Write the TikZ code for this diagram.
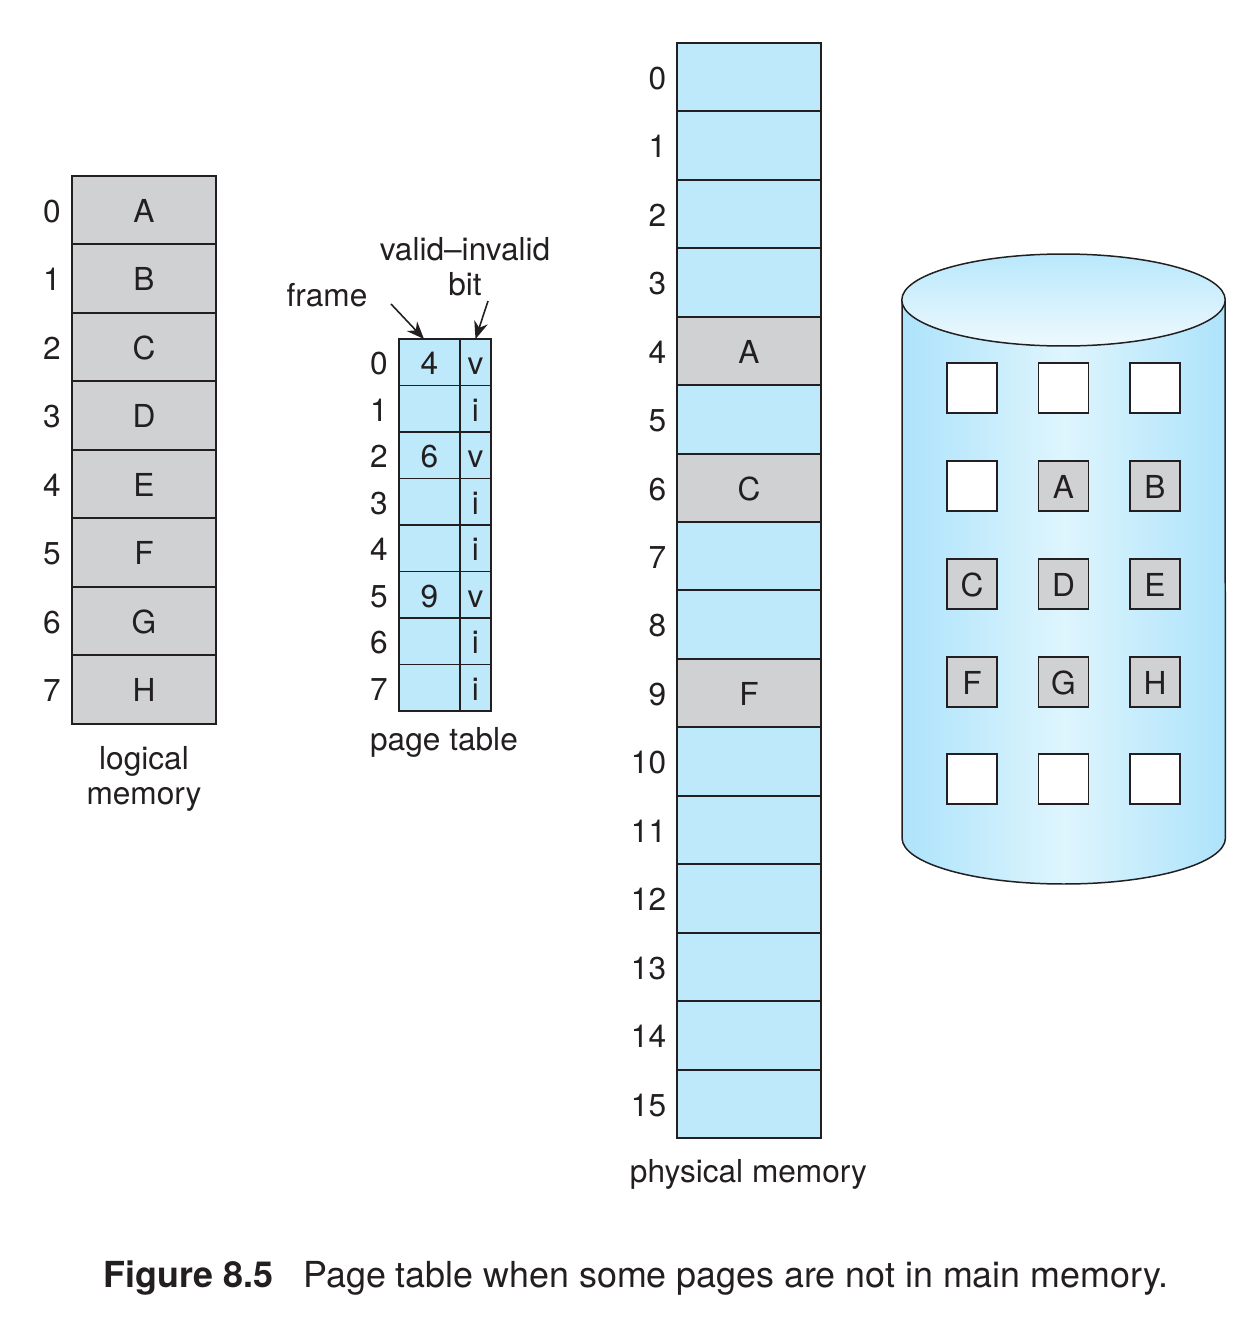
\documentclass[tikz,border=0pt]{standalone}
\usepackage{fontspec}
\setmainfont{TeX Gyre Heros}
\usetikzlibrary{arrows.meta}
\definecolor{inkblack}{RGB}{35,31,32}
\definecolor{pagegray}{RGB}{208,209,211}
\definecolor{cellblue}{RGB}{189,233,251}
\definecolor{diskedge}{RGB}{173,227,251}
\definecolor{diskmid}{RGB}{222,245,253}
\definecolor{disktop}{RGB}{184,232,251}
\definecolor{disklow}{RGB}{238,249,254}
\tikzset{
  cellbase/.style={draw=inkblack,line width=1.1pt,inner sep=0pt,outer sep=0pt,text height=0.49cm,text depth=0pt},
  pagecell/.style={cellbase,fill=pagegray,minimum width=2.88cm,minimum height=1.37cm},
  framecell/.style={cellbase,fill=cellblue,minimum width=2.88cm,minimum height=1.37cm},
  tablecell/.style={cellbase,fill=cellblue,minimum width=1.22cm,minimum height=0.93cm},
  bitcell/.style={cellbase,fill=cellblue,minimum width=0.62cm,minimum height=0.93cm},
  diskblock/.style={cellbase,fill=white,minimum width=1cm,minimum height=1cm},
  diskpage/.style={diskblock,fill=pagegray},
  indexlabel/.style={anchor=east,inner sep=0pt,text height=0.49cm,text depth=0pt},
  pointer/.style={-{Stealth[length=10pt,width=8pt]},draw=inkblack,line width=0.9pt}
}
\begin{document}
\begin{tikzpicture}[x=0.02cm,y=-0.02cm,text=inkblack,font=\fontsize{18}{19.9}\selectfont]
\useasboundingbox (0,0) rectangle (1248,1318);
% logical memory
\node[pagecell] (la) at (144,210.2) {A};
\node[pagecell] (lb) at (144,278.7) {B};
\node[pagecell] (lc) at (144,347.1) {C};
\node[pagecell] (ld) at (144,415.6) {D};
\node[pagecell] (le) at (144,484) {E};
\node[pagecell] (lf) at (144,552.4) {F};
\node[pagecell] (lg) at (144,620.9) {G};
\node[pagecell] (lh) at (144,689.3) {H};
\node[indexlabel] (l0) at (61,210.2) {0};
\node[indexlabel] (l1) at (61,278.7) {1};
\node[indexlabel] (l2) at (61,347.1) {2};
\node[indexlabel] (l3) at (61,415.6) {3};
\node[indexlabel] (l4) at (61,484) {4};
\node[indexlabel] (l5) at (61,552.4) {5};
\node[indexlabel] (l6) at (61,620.9) {6};
\node[indexlabel] (l7) at (61,689.3) {7};
\node[align=center,inner sep=0pt] (lname) at (144,779) {logical\\memory};
% page table
\node[tablecell] (f0) at (429.5,362.25) {4};
\node[tablecell] (f1) at (429.5,408.75) {};
\node[tablecell] (f2) at (429.5,455.25) {6};
\node[tablecell] (f3) at (429.5,501.75) {};
\node[tablecell] (f4) at (429.5,548.25) {};
\node[tablecell] (f5) at (429.5,594.75) {9};
\node[tablecell] (f6) at (429.5,641.25) {};
\node[tablecell] (f7) at (429.5,687.75) {};
\node[bitcell] (v0) at (475.5,362.25) {v};
\node[bitcell] (v1) at (475.5,408.75) {i};
\node[bitcell] (v2) at (475.5,455.25) {v};
\node[bitcell] (v3) at (475.5,501.75) {i};
\node[bitcell] (v4) at (475.5,548.25) {i};
\node[bitcell] (v5) at (475.5,594.75) {v};
\node[bitcell] (v6) at (475.5,641.25) {i};
\node[bitcell] (v7) at (475.5,687.75) {i};
\node[indexlabel] (t0) at (388,362.25) {0};
\node[indexlabel] (t1) at (388,408.75) {1};
\node[indexlabel] (t2) at (388,455.25) {2};
\node[indexlabel] (t3) at (388,501.75) {3};
\node[indexlabel] (t4) at (388,548.25) {4};
\node[indexlabel] (t5) at (388,594.75) {5};
\node[indexlabel] (t6) at (388,641.25) {6};
\node[indexlabel] (t7) at (388,687.75) {7};
\node[inner sep=0pt] (tname) at (444,742) {page table};
\node[inner sep=0pt] (fname) at (327,295) {frame};
\node[align=center,inner sep=0pt] (vname) at (465,267) {valid--invalid\\bit};
\coordinate (fstart) at (391,304);
\coordinate (vstart) at (488,301);
\draw[pointer] (fstart) -- ([xshift=-0.11cm]f0.north);
\draw[pointer] (vstart) -- (v0.north);
% physical memory
\node[framecell] (p0) at (749,77.2) {};
\node[framecell] (p1) at (749,145.7) {};
\node[framecell] (p2) at (749,214.1) {};
\node[framecell] (p3) at (749,282.5) {};
\node[pagecell] (p4) at (749,351) {A};
\node[framecell] (p5) at (749,419.4) {};
\node[pagecell] (p6) at (749,487.9) {C};
\node[framecell] (p7) at (749,556.3) {};
\node[framecell] (p8) at (749,624.7) {};
\node[pagecell] (p9) at (749,693.2) {F};
\node[framecell] (p10) at (749,761.6) {};
\node[framecell] (p11) at (749,830.1) {};
\node[framecell] (p12) at (749,898.5) {};
\node[framecell] (p13) at (749,966.9) {};
\node[framecell] (p14) at (749,1035.4) {};
\node[framecell] (p15) at (749,1103.8) {};
\node[indexlabel] (n0) at (666.5,77.2) {0};
\node[indexlabel] (n1) at (666.5,145.7) {1};
\node[indexlabel] (n2) at (666.5,214.1) {2};
\node[indexlabel] (n3) at (666.5,282.5) {3};
\node[indexlabel] (n4) at (666.5,351) {4};
\node[indexlabel] (n5) at (666.5,419.4) {5};
\node[indexlabel] (n6) at (666.5,487.9) {6};
\node[indexlabel] (n7) at (666.5,556.3) {7};
\node[indexlabel] (n8) at (666.5,624.7) {8};
\node[indexlabel] (n9) at (666.5,693.2) {9};
\node[indexlabel] (n10) at (666.5,761.6) {10};
\node[indexlabel] (n11) at (666.5,830.1) {11};
\node[indexlabel] (n12) at (666.5,898.5) {12};
\node[indexlabel] (n13) at (666.5,966.9) {13};
\node[indexlabel] (n14) at (666.5,1035.4) {14};
\node[indexlabel] (n15) at (666.5,1103.8) {15};
\node[inner sep=0pt] (pname) at (748.5,1174) {physical memory};
% disk
\draw[draw=inkblack,line width=0.85pt,left color=diskedge,right color=diskedge,middle color=diskmid]
  (902,300) -- (902,838) arc[start angle=180,end angle=360,x radius=3.235cm,y radius=0.92cm] -- (1225,300) -- cycle;
\draw[draw=inkblack,line width=0.85pt,top color=disktop,bottom color=disklow]
  (1063.5,300) ellipse [x radius=3.235cm,y radius=0.92cm];
\node[diskblock] (d1) at (972,388) {};
\node[diskblock] (d2) at (1063.5,388) {};
\node[diskblock] (d3) at (1155,388) {};
\node[diskblock] (d4) at (972,486) {};
\node[diskpage] (da) at (1063.5,486) {A};
\node[diskpage] (db) at (1155,486) {B};
\node[diskpage] (dc) at (972,584) {C};
\node[diskpage] (dd) at (1063.5,584) {D};
\node[diskpage] (de) at (1155,584) {E};
\node[diskpage] (df) at (972,682) {F};
\node[diskpage] (dg) at (1063.5,682) {G};
\node[diskpage] (dh) at (1155,682) {H};
\node[diskblock] (d5) at (972,779) {};
\node[diskblock] (d6) at (1063.5,779) {};
\node[diskblock] (d7) at (1155,779) {};
% caption
\node[anchor=base west,inner sep=0pt,font=\fontsize{20.4}{22}\selectfont] (caption) at (103.5,1287) {\textbf{Figure 8.5}\hspace{0.6cm}Page table when some pages are not in main memory.};
\end{tikzpicture}
\end{document}
